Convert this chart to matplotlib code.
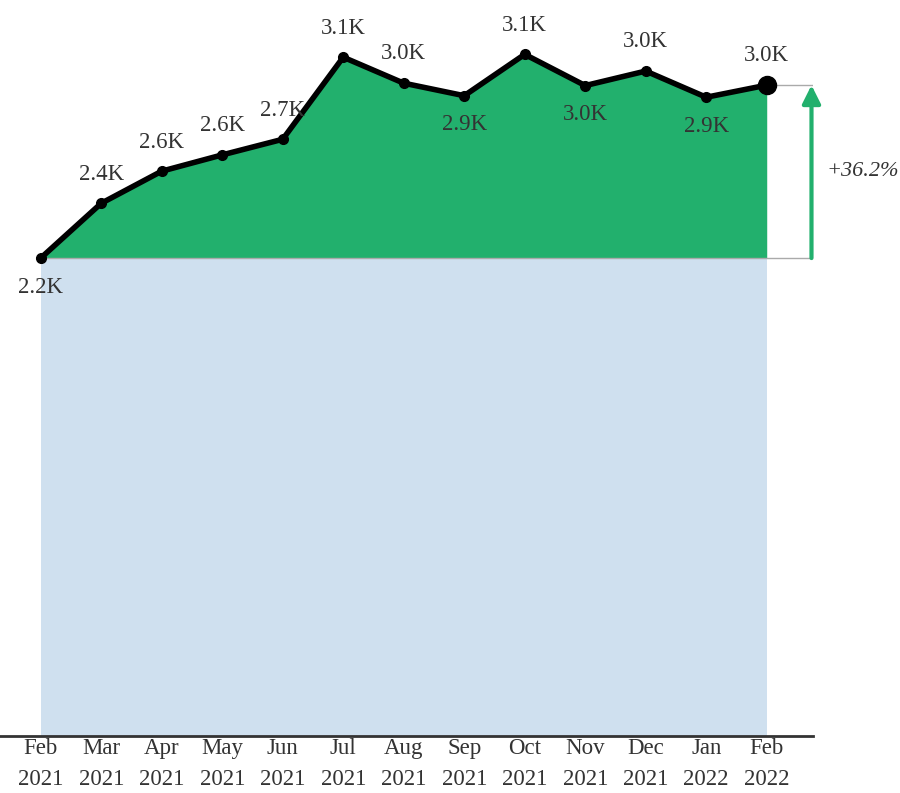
import matplotlib
matplotlib.use("Agg")
import matplotlib.pyplot as plt
import numpy as np

months = ["Feb\n2021", "Mar\n2021", "Apr\n2021", "May\n2021", "Jun\n2021", "Jul\n2021",
          "Aug\n2021", "Sep\n2021", "Oct\n2021", "Nov\n2021", "Dec\n2021", "Jan\n2022",
          "Feb\n2022"]
values = [2170, 2419, 2565, 2639, 2710, 3083, 2965, 2908, 3096, 2954, 3020, 2901, 2956]

green = "#22b06d"
blue = "#cfe0ef"
text_col = "#333333"

plt.rcParams['font.family'] = ['Liberation Serif', 'DejaVu Serif']

fig = plt.figure(figsize=(9, 7.93), dpi=100)
ax = fig.add_axes([0, 0.0725, 0.903, 0.9275])

x = np.arange(len(values))
first = values[0]
last = values[-1]
ax_x = 12.74

# base area and growth area
ax.fill_between(x, 0, first, color=blue, lw=0)
ax.fill_between(x, first, values, color=green, lw=0)
ax.plot([x[0], ax_x + 0.07], [first, first], color="#aaaaaa", lw=1, zorder=2)

ax.plot(x, values, color="black", lw=4, marker="o", ms=7, zorder=4,
        solid_joinstyle="round", solid_capstyle="round")
ax.plot(x[-1], last, "o", color="black", ms=13, zorder=5)

def fmt(v):
    return f"{v / 1000:.1f}K"

for i, v in enumerate(values):
    nb = []
    if i > 0:
        nb.append(values[i - 1])
    if i < len(values) - 1:
        nb.append(values[i + 1])
    below = v <= min(nb)
    dy = -21 if below else 21
    ax.annotate(fmt(v), (x[i], v), xytext=(0, dy), textcoords="offset points",
                ha="center", va="center", fontsize=16.5, color=text_col, zorder=6)

# change arrow
ax.plot([x[-1], ax_x + 0.07], [last, last], color="#aaaaaa", lw=1, zorder=2)
ax.annotate("", xy=(ax_x, last), xytext=(ax_x, first),
            arrowprops=dict(arrowstyle="-|>,head_width=0.55,head_length=1.1",
                            color=green, lw=3, shrinkA=0, shrinkB=0),
            annotation_clip=False)
pct = (last / first - 1) * 100
ax.text(ax_x + 0.25, (first + last) / 2, f"+{pct:.1f}%", fontsize=16, style="italic",
        color=text_col, ha="left", va="center", clip_on=False)

ax.set_xlim(-0.673, 12.76)
ax.set_ylim(0, 3343)
ax.set_xticks(x)
ax.set_xticklabels(months, fontsize=16.5, color=text_col, linespacing=1.6)
ax.tick_params(axis="x", length=0, pad=2)
ax.set_yticks([])
for s in ["top", "right", "left"]:
    ax.spines[s].set_visible(False)
ax.spines["bottom"].set_color("#333333")
ax.spines["bottom"].set_linewidth(2)

fig.savefig("out.png", dpi=100)
